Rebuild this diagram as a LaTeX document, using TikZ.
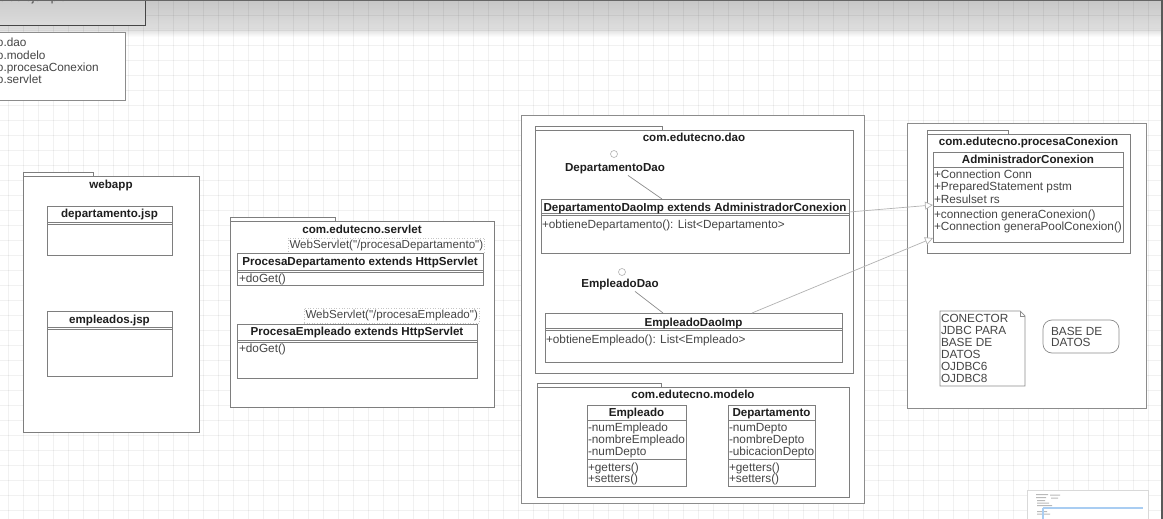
\documentclass[tikz,border=0pt]{standalone}
\usepackage{fontspec}
\setmainfont{Liberation Sans}
\usetikzlibrary{arrows.meta,shadows}

\definecolor{edge}{HTML}{8C8C8C}
\definecolor{boxedge}{HTML}{7E7E7E}
\definecolor{ink}{HTML}{1E1E1E}
\definecolor{soft}{HTML}{454545}
\definecolor{selblue}{HTML}{A9CDF2}

\tikzset{
  x=1pt, y=-1pt,
  every node/.style={inner sep=0pt, outer sep=0pt},
  gridline/.style={draw=black, opacity=0.055, line width=0.5pt},
  pkgline/.style={draw=boxedge, line width=0.8pt, fill=white},
  pkgbody/.style={pkgline, rectangle},
  plainbox/.style={draw=edge, line width=0.8pt, fill=white, rectangle},
  clsshape/.style={draw=boxedge, line width=0.8pt, fill=white, rectangle},
  clsline/.style={draw=boxedge, line width=0.7pt},
  titletext/.style={font=\fontsize{11.6}{13}\selectfont\bfseries, text=ink},
  membtext/.style={font=\fontsize{11.8}{13}\selectfont, text=soft},
  annot/.style={draw=gray!45, dotted, line width=0.6pt, fill=white,
    font=\fontsize{11.6}{13}\selectfont, text=soft, inner xsep=1.5pt,
    minimum height=15pt, text height=8.5pt, text depth=2.5pt},
  realize/.style={draw=edge, line width=0.7pt},
  genline/.style={draw=gray!60, line width=0.7pt,
    -{Triangle[open, length=8pt, width=8pt, fill=white]}},
  lolli/.style={circle, draw=gray!60, line width=0.6pt, fill=white, minimum size=7pt},
}

% package: name, x1, y1, x2, y2, tab right edge, title, title centre y
\newcommand\pkgbox[8]{%
  \draw[pkgline] (#2,{#3-4}) rectangle (#6,#3);
  \node[pkgbody, anchor=north west, minimum width={(#4-#2)*1pt},
        minimum height={(#5-#3)*1pt}] (#1) at (#2,#3) {};
  \node[titletext, anchor=base] (#1-title) at ({(#2+#4)/2},{#8+4}) {#7};
}
% class: name, x1, y1, x2, y2, header line y, title, title centre y
\newcommand\clsbox[8]{%
  \node[clsshape, anchor=north west, minimum width={(#4-#2)*1pt},
        minimum height={(#5-#3)*1pt}] (#1) at (#2,#3) {};
  \draw[clsline] (#2,#6) -- (#4,#6);
  \node[titletext, anchor=base] (#1-title) at ({(#2+#4)/2},{#8+4}) {#7};
}
% member line: name, x, centre y, text
\newcommand\memb[4]{\node[membtext, anchor=base west] (#1) at (#2,{#3+4}) {#4};}
% compartment separator: x1, x2, y
\newcommand\sepat[3]{\draw[clsline] (#1,#3) -- (#2,#3);}

\begin{document}
\begin{tikzpicture}
\useasboundingbox (0,0) rectangle (1163,519);
\clip (0,0) rectangle (1163,519);

% canvas: white page with a grey band along the top
\fill[white] (0,0) rectangle (1163,519);
\shade[top color=gray!44, bottom color=gray!26] (0,0) rectangle (1163,29);
\shade[top color=gray!26, bottom color=white] (0,29) rectangle (1163,37);
\foreach \gx in {8,23,...,1163} \draw[gridline] (\gx,0) -- (\gx,519);
\foreach \gy in {0,15,...,519} \draw[gridline] (0,\gy) -- (1163,\gy);

% leftover boxes at the top left
\node[plainbox, draw=gray!55!black, top color=gray!44, bottom color=gray!28, anchor=north west,
      minimum width=160pt, minimum height=35pt] (legend) at (-15,-10) {};
\node[membtext, anchor=base west] (legend-t) at (-1,1.5) {o de ejemplo};
\node[plainbox, anchor=north west, minimum width=140pt, minimum height=68pt] (pkglist) at (-15,32) {};
\memb{pkglist-1}{-3}{43}{o.dao}
\memb{pkglist-2}{-3}{55.3}{o.modelo}
\memb{pkglist-3}{-3}{67.6}{o.procesaConexion}
\memb{pkglist-4}{-3}{79.9}{o.servlet}

% webapp
\pkgbox{webapp}{23}{176}{199}{432}{93}{webapp}{184}
\clsbox{depjsp}{47}{206}{172}{255}{222}{departamento.jsp}{213}
\sepat{47}{172}{224}
\clsbox{empjsp}{47}{311}{172}{376}{327}{empleados.jsp}{319}
\sepat{47}{172}{329}

% servlets
\pkgbox{servlet}{230}{221}{494}{407}{335}{com.edutecno.servlet}{229}
\node[annot, anchor=north west] (wsdep) at (288,238) {WebServlet(\textquotedbl/procesaDepartamento\textquotedbl)};
\clsbox{pdep}{237}{253}{483}{285}{270}{ProcesaDepartamento extends HttpServlet}{261}
\sepat{237}{483}{272}
\memb{pdep-m1}{239}{278}{+doGet()}
\node[annot, anchor=north west] (wsemp) at (304,308) {WebServlet(\textquotedbl/procesaEmpleado\textquotedbl)};
\clsbox{pemp}{237}{324}{477}{378}{340}{ProcesaEmpleado extends HttpServlet}{331}
\sepat{237}{477}{342}
\memb{pemp-m1}{239}{348}{+doGet()}

% dao + modelo frame
\node[plainbox, anchor=north west, minimum width=343pt, minimum height=388pt] (daoframe) at (521,115) {};
\pkgbox{dao}{535}{130}{853}{373}{662}{com.edutecno.dao}{137}
\node[lolli] (dint) at (614,154) {};
\node[titletext, anchor=base] (dint-l) at (615,171) {DepartamentoDao};
\clsbox{dimpl}{541}{199}{849}{253}{213}{DepartamentoDaoImp extends AdministradorConexion}{207}
\sepat{541}{849}{215}
\memb{dimpl-m1}{542}{224}{+obtieneDepartamento(): List<Departamento>}
\draw[realize] ([xshift=13pt,yshift=-2pt]dint-l.south) -- ([xshift=-33pt]dimpl.north);

\node[lolli] (eint) at (622,272) {};
\node[titletext, anchor=base] (eint-l) at (620,287) {EmpleadoDao};
\clsbox{eimpl}{545}{313}{842}{362}{328}{EmpleadoDaoImp}{322}
\sepat{545}{842}{330}
\memb{eimpl-m1}{546}{339}{+obtieneEmpleado(): List<Empleado>}
\draw[realize] ([xshift=15pt,yshift=-2pt]eint-l.south) -- ([xshift=-30.5pt]eimpl.north);

\pkgbox{modelo}{537}{387}{849}{497}{661}{com.edutecno.modelo}{394}
\clsbox{emp}{587}{405}{686}{486}{420}{Empleado}{412}
\memb{emp-a1}{588}{427}{-numEmpleado}
\memb{emp-a2}{588}{439}{-nombreEmpleado}
\memb{emp-a3}{588}{451}{-numDepto}
\sepat{587}{686}{459}
\memb{emp-m1}{588}{467}{+getters()}
\memb{emp-m2}{588}{478}{+setters()}
\clsbox{dep}{728}{405}{815}{486}{420}{Departamento}{412}
\memb{dep-a1}{729}{427}{-numDepto}
\memb{dep-a2}{729}{439}{-nombreDepto}
\memb{dep-a3}{729}{451}{-ubicacionDepto}
\sepat{728}{815}{459}
\memb{dep-m1}{729}{467}{+getters()}
\memb{dep-m2}{729}{478}{+setters()}

% connection layer
\node[plainbox, anchor=north west, minimum width=239pt, minimum height=285pt] (pcxframe) at (907,123) {};
\pkgbox{pcx}{927}{134}{1130}{253}{1008}{com.edutecno.procesaConexion}{142}
\clsbox{admin}{933}{152}{1123}{242}{167}{AdministradorConexion}{159}
\memb{admin-a1}{934}{174}{+Connection Conn}
\memb{admin-a2}{934}{186.5}{+PreparedStatement pstm}
\memb{admin-a3}{934}{199}{+Resulset rs}
\sepat{933}{1123}{206}
\memb{admin-m1}{934}{214}{+connection generaConexion()}
\memb{admin-m2}{934}{226.5}{+Connection generaPoolConexion()}

% note with folded corner
\node[anchor=north west, minimum width=85pt, minimum height=75pt] (note) at (940,311) {};
\draw[draw=edge, line width=0.7pt, fill=white]
  (note.north west) -- ([xshift=-5pt]note.north east) -- ([yshift=-5pt]note.north east)
  -- (note.south east) -- (note.south west) -- cycle;
\draw[draw=edge, line width=0.5pt] ([xshift=-5pt]note.north east) -- ([xshift=-5pt,yshift=-5pt]note.north east) -- ([yshift=-5pt]note.north east);
\memb{note-1}{941}{318}{CONECTOR}
\memb{note-2}{941}{330}{JDBC PARA}
\memb{note-3}{941}{342}{BASE DE}
\memb{note-4}{941}{354}{DATOS}
\memb{note-5}{941}{366}{OJDBC6}
\memb{note-6}{941}{378}{OJDBC8}

\node[draw=edge, line width=0.7pt, fill=white, rounded corners=9pt, anchor=north west,
      minimum width=76pt, minimum height=33pt] (db) at (1043,320) {};
\memb{db-1}{1051}{331}{BASE DE}
\memb{db-2}{1051}{342.5}{DATOS}

% inheritance
\draw[genline] ([yshift=-13pt]dimpl.north east) -- ([yshift=-53pt]admin.north west);
\draw[genline] ([xshift=58.5pt]eimpl.north) -- ([yshift=-86pt]admin.north west);

% outline thumbnail
\node[fill=white, draw=gray!30, line width=0.5pt, drop shadow={shadow xshift=0pt, shadow yshift=0pt, opacity=0.25},
      anchor=north west, minimum width=121pt, minimum height=40pt] (outline) at (1027,490) {};
\fill[gray!55] (1036,494) rectangle (1048,495) (1050,494.5) rectangle (1060,495.5)
  (1036,497) rectangle (1046,498) (1051,497.5) rectangle (1058,498.5)
  (1037,500) rectangle (1045,501) (1037,502.5) rectangle (1049,503.5)
  (1037,505) rectangle (1052,506) (1037,511) rectangle (1047,512) (1037,513.5) rectangle (1050,514.5);
\draw[selblue, line width=1.4pt] (1043,508) -- (1143,508) (1043,508) -- (1043,520);

% window edges
\fill[gray!80!black] (0,0) rectangle (1163,1.5);
\fill[gray!70!black] (1160.5,0) rectangle (1163,519);
\end{tikzpicture}
\end{document}
